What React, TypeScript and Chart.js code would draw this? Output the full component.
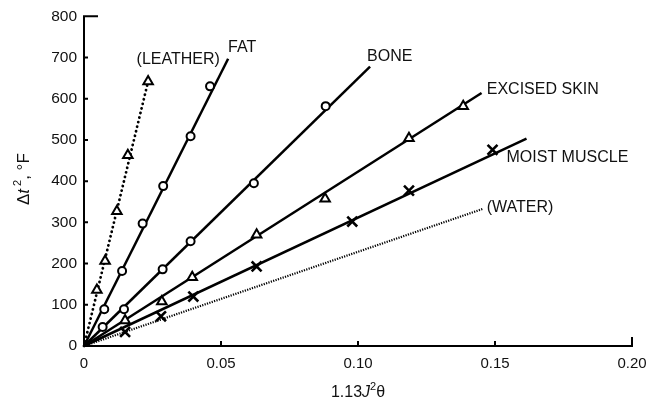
import React, { useEffect, useRef } from "react";
import { Chart, registerables } from "chart.js";

Chart.register(...registerables);

// ---- data ----
const xTickValues = [0, 0.05, 0.1, 0.15, 0.2];
const yTickValues = [0, 100, 200, 300, 400, 500, 600, 700, 800];

const seriesNames = ["(LEATHER)", "FAT", "BONE", "EXCISED SKIN", "MOIST MUSCLE", "(WATER)"];

const leatherX = [0.0047, 0.0077, 0.012, 0.016, 0.0234];
const leatherY = [136, 206, 327, 463, 642];
const fatX = [0.0074, 0.0139, 0.0214, 0.0289, 0.0389, 0.046];
const fatY = [89, 182, 297, 388, 509, 630];
const boneX = [0.0068, 0.0146, 0.0287, 0.0389, 0.062, 0.0882];
const boneY = [46, 89, 186, 254, 395, 582];
const skinX = [0.015, 0.0284, 0.0395, 0.063, 0.088, 0.1186, 0.1384];
const skinY = [62, 108, 167, 270, 357, 504, 582];
const muscleX = [0.015, 0.0281, 0.0399, 0.063, 0.0979, 0.1186, 0.1491];
const muscleY = [34, 72, 120, 193, 302, 377, 476];
const waterX: number[] = [];
const waterY: number[] = [];

// fitted straight lines from the origin: end points
const lineEndX = [0.0234, 0.0526, 0.1044, 0.1451, 0.1615, 0.1457];
const lineEndY = [642, 697, 678, 614, 503, 333];

// label anchors (data units: left edge of text, vertical middle)
const labelAnchorX = [0.0192, 0.0526, 0.1033, 0.147, 0.1542, 0.147];
const labelAnchorY = [696, 725, 703, 621, 456, 335];

const FONT = "'Liberation Sans', Arial, Helvetica, sans-serif";
const INK = "#111";

const pts = (xs: number[], ys: number[]) => xs.map((x, i) => ({ x, y: ys[i] }));

function App() {
  const ref = useRef<HTMLCanvasElement | null>(null);

  useEffect(() => {
    const canvas = ref.current;
    if (!canvas) return;

    const markerSets = [
      { xs: leatherX, ys: leatherY, style: "triangle", r: 5.5 },
      { xs: fatX, ys: fatY, style: "circle", r: 4 },
      { xs: boneX, ys: boneY, style: "circle", r: 4 },
      { xs: skinX, ys: skinY, style: "triangle", r: 5.5 },
      { xs: muscleX, ys: muscleY, style: "crossRot", r: 7 },
      { xs: waterX, ys: waterY, style: "circle", r: 4 },
    ];
    const lineStyles = [
      { dash: [0.1, 4.6], width: 2.8, cap: "round" },
      { dash: [], width: 2.5, cap: "butt" },
      { dash: [], width: 2.5, cap: "butt" },
      { dash: [], width: 2.5, cap: "butt" },
      { dash: [], width: 2.5, cap: "butt" },
      { dash: [1.2, 1.3], width: 2.2, cap: "butt" },
    ];

    const datasets: any[] = [];
    seriesNames.forEach((name, i) => {
      datasets.push({
        label: name + " line",
        data: [{ x: 0, y: 0 }, { x: lineEndX[i], y: lineEndY[i] }],
        showLine: true,
        borderColor: "#000",
        borderWidth: lineStyles[i].width,
        borderDash: lineStyles[i].dash,
        borderCapStyle: lineStyles[i].cap,
        pointRadius: 0,
        order: 2,
        clip: false,
      });
      const m = markerSets[i];
      if (m.xs.length) {
        datasets.push({
          label: name,
          data: pts(m.xs, m.ys),
          showLine: false,
          pointStyle: m.style,
          pointRadius: m.r,
          pointBackgroundColor: "#fff",
          pointBorderColor: "#000",
          pointBorderWidth: m.style === "crossRot" ? 2.6 : 2,
          order: 1,
          clip: false,
        });
      }
    });

    const axesPlugin = {
      id: "customAxes",
      afterDatasetsDraw(chart: any) {
        const ctx = chart.ctx;
        const xs = chart.scales.x;
        const ys = chart.scales.y;
        const left = xs.getPixelForValue(0);
        const right = xs.getPixelForValue(0.2);
        const bottom = ys.getPixelForValue(0);
        const top = ys.getPixelForValue(800);
        ctx.save();
        ctx.strokeStyle = "#000";
        ctx.lineWidth = 2;
        ctx.lineCap = "butt";
        ctx.beginPath();
        ctx.moveTo(left, top - 1);
        ctx.lineTo(left, bottom + 1);
        ctx.moveTo(left - 1, bottom);
        ctx.lineTo(right + 1, bottom);
        // y ticks (inward)
        yTickValues.forEach((v) => {
          if (v === 0) return;
          const y = ys.getPixelForValue(v);
          const len = v === 800 ? 14 : 4;
          ctx.moveTo(left, y);
          ctx.lineTo(left + len, y);
        });
        // x ticks (inward)
        xTickValues.forEach((v) => {
          if (v === 0) return;
          const x = xs.getPixelForValue(v);
          const len = v === 0.2 ? 9 : 5;
          ctx.moveTo(x, bottom);
          ctx.lineTo(x, bottom - len);
        });
        ctx.stroke();

        // series labels
        ctx.fillStyle = INK;
        ctx.font = `16px ${FONT}`;
        ctx.textAlign = "left";
        ctx.textBaseline = "middle";
        seriesNames.forEach((name, i) => {
          ctx.fillText(
            name,
            xs.getPixelForValue(labelAnchorX[i]),
            ys.getPixelForValue(labelAnchorY[i])
          );
        });

        // axis titles with mixed styles
        const drawRich = (parts: { t: string; font: string; dy: number }[], cx: number, cy: number, rot: number) => {
          ctx.save();
          ctx.translate(cx, cy);
          ctx.rotate(rot);
          ctx.textBaseline = "alphabetic";
          ctx.textAlign = "left";
          let total = 0;
          parts.forEach((p) => {
            ctx.font = p.font;
            total += ctx.measureText(p.t).width;
          });
          let x = -total / 2;
          parts.forEach((p) => {
            ctx.font = p.font;
            ctx.fillText(p.t, x, 6 + p.dy);
            x += ctx.measureText(p.t).width;
          });
          ctx.restore();
        };
        drawRich(
          [
            { t: "1.13", font: `16px ${FONT}`, dy: 0 },
            { t: "J", font: `italic 16px ${FONT}`, dy: 0 },
            { t: "2", font: `11px ${FONT}`, dy: -7 },
            { t: "θ", font: `16px ${FONT}`, dy: 0 },
          ],
          xs.getPixelForValue(0.1),
          391,
          0
        );
        drawRich(
          [
            { t: "Δ", font: `17px ${FONT}`, dy: 0 },
            { t: "t", font: `italic 17px ${FONT}`, dy: 0 },
            { t: " 2", font: `11px ${FONT}`, dy: -8 },
            { t: ", °F", font: `17px ${FONT}`, dy: 0 },
          ],
          23,
          ys.getPixelForValue(400) - 2,
          -Math.PI / 2
        );
        ctx.restore();
      },
    };

    const chart = new Chart(canvas, {
      type: "scatter",
      data: { datasets },
      options: {
        animation: false,
        responsive: false,
        events: [],
        layout: { padding: { top: 14, right: 27, left: 0, bottom: 0 } },
        plugins: { legend: { display: false }, tooltip: { enabled: false } },
        scales: {
          x: {
            type: "linear",
            min: 0,
            max: 0.2,
            afterBuildTicks: (s: any) => {
              s.ticks = xTickValues.map((v) => ({ value: v }));
            },
            afterFit: (s: any) => {
              s.height = 57;
            },
            grid: { display: false, drawTicks: false },
            border: { display: false },
            ticks: {
              padding: 9,
              color: INK,
              font: { family: FONT, size: 15 },
              maxRotation: 0,
              callback: (v: any) => (Number(v) === 0 ? "0" : Number(v).toFixed(2)),
            },
          },
          y: {
            type: "linear",
            min: 0,
            max: 800,
            afterBuildTicks: (s: any) => {
              s.ticks = yTickValues.map((v) => ({ value: v }));
            },
            afterFit: (s: any) => {
              s.width = 84;
            },
            grid: { display: false, drawTicks: false },
            border: { display: false },
            ticks: {
              padding: 7,
              color: INK,
              font: { family: FONT, size: 15.5 },
              callback: (v: any) => String(v),
            },
          },
        },
      },
      plugins: [axesPlugin],
    } as any);

    return () => chart.destroy();
  }, []);

  return (
    <div style={{ position: "absolute", left: 0, top: 0, width: 659, height: 403, background: "#fff" }}>
      <canvas ref={ref} width={659} height={403} />
    </div>
  );
}

export default App;
